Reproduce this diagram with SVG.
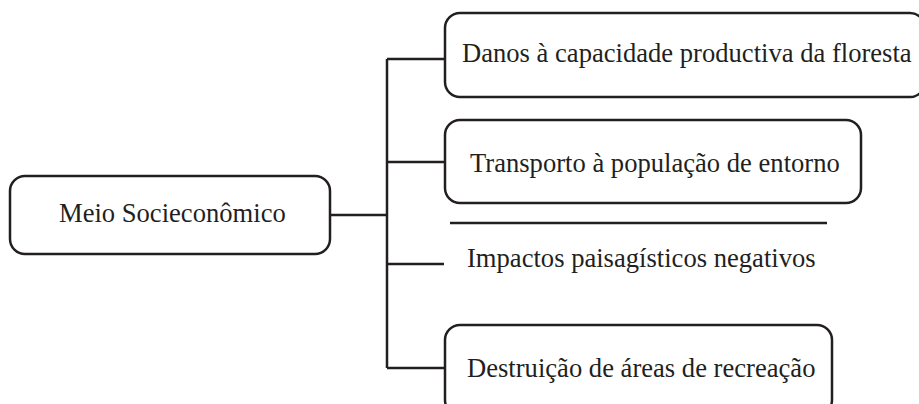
<svg xmlns="http://www.w3.org/2000/svg" width="919" height="404" viewBox="0 0 919 404">
<style>
.box{fill:#fff;stroke:#231f20;stroke-width:2.5}
.ln{fill:none;stroke:#231f20;stroke-width:2.5}
text{font-family:"Liberation Serif","Times New Roman",serif;font-size:26.6px;fill:#231f20}
</style>
<rect width="919" height="404" fill="#fff"/>
<g id="connectors">
<path class="ln" d="M330,215 H387 M387,59 V368 M387,59 H445 M387,162 H445 M387,264 H444 M387,368 H445"/>
</g>
<g id="n0"><rect class="box" x="10" y="176" width="320" height="78" rx="15"/><text x="59" y="222">Meio Socieconômico</text></g>
<g id="n1"><rect class="box" x="445" y="13" width="480" height="84" rx="15"/><text x="462" y="62">Danos à capacidade productiva da floresta</text></g>
<g id="n2"><rect class="box" x="445" y="120" width="416" height="83" rx="15"/><text x="470" y="172">Transporto à população de entorno</text></g>
<g id="n3"><line class="ln" x1="450" y1="223" x2="827" y2="223" stroke-width="3"/><text x="467" y="267">Impactos paisagísticos negativos</text></g>
<g id="n4"><rect class="box" x="445" y="325" width="387" height="90" rx="15"/><text x="467" y="377">Destruição de áreas de recreação</text></g>
</svg>
